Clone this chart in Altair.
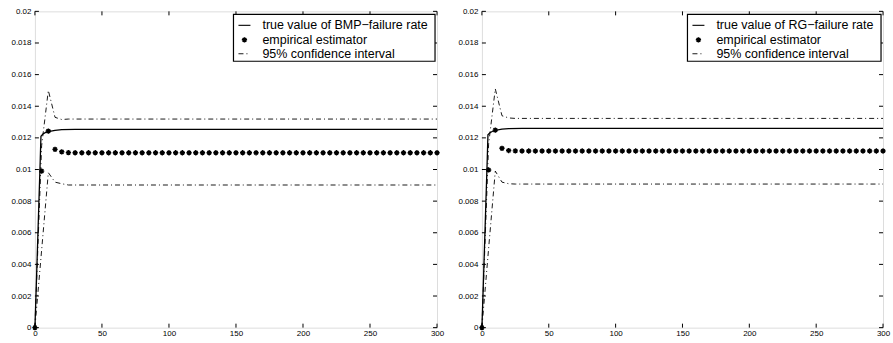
import altair as alt
import pandas as pd

# ---------------- data ----------------
x_est = [0, 5, 10, 15, 20, 25, 30, 35, 40, 45, 50, 55, 60, 65, 70, 75, 80, 85, 90, 95,
         100, 105, 110, 115, 120, 125, 130, 135, 140, 145, 150, 155, 160, 165, 170, 175,
         180, 185, 190, 195, 200, 205, 210, 215, 220, 225, 230, 235, 240, 245, 250, 255,
         260, 265, 270, 275, 280, 285, 290, 295, 300]
est_bmp = [0.0, 0.0099, 0.01243, 0.01127, 0.01112, 0.01107, 0.01106, 0.01106, 0.01106, 0.01106,
           0.01106, 0.01106, 0.01106, 0.01106, 0.01106, 0.01106, 0.01106, 0.01106, 0.01106, 0.01106,
           0.01106, 0.01106, 0.01106, 0.01106, 0.01106, 0.01106, 0.01106, 0.01106, 0.01106, 0.01106,
           0.01106, 0.01106, 0.01106, 0.01106, 0.01106, 0.01106, 0.01106, 0.01106, 0.01106, 0.01106,
           0.01106, 0.01106, 0.01106, 0.01106, 0.01106, 0.01106, 0.01106, 0.01106, 0.01106, 0.01106,
           0.01106, 0.01106, 0.01106, 0.01106, 0.01106, 0.01106, 0.01106, 0.01106, 0.01106, 0.01106,
           0.01106]
est_rg = [0.0, 0.00997, 0.01249, 0.01134, 0.0112, 0.01118, 0.01117, 0.01117, 0.01117, 0.01117,
          0.01117, 0.01117, 0.01117, 0.01117, 0.01117, 0.01117, 0.01117, 0.01117, 0.01117, 0.01117,
          0.01117, 0.01117, 0.01117, 0.01117, 0.01117, 0.01117, 0.01117, 0.01117, 0.01117, 0.01117,
          0.01117, 0.01117, 0.01117, 0.01117, 0.01117, 0.01117, 0.01117, 0.01117, 0.01117, 0.01117,
          0.01117, 0.01117, 0.01117, 0.01117, 0.01117, 0.01117, 0.01117, 0.01117, 0.01117, 0.01117,
          0.01117, 0.01117, 0.01117, 0.01117, 0.01117, 0.01117, 0.01117, 0.01117, 0.01117, 0.01117,
          0.01117]

x_true = [0, 1, 2, 3, 4, 4.5, 6, 8, 10, 15, 20, 30, 300]
true_bmp = [0.0, 0.0026, 0.0053, 0.008, 0.0107, 0.0121, 0.01225, 0.01235, 0.0124, 0.01248,
            0.01252, 0.01254, 0.01254]
true_rg = [0.0, 0.0026, 0.0053, 0.008, 0.0107, 0.0122, 0.01232, 0.01242, 0.01248, 0.01255,
           0.01258, 0.0126, 0.0126]

x_ci = [0, 5, 10, 15, 20, 25, 300]
ci_up_bmp = [0.0, 0.0115, 0.0150, 0.0133, 0.01316, 0.01319, 0.01319]
ci_lo_bmp = [0.0, 0.0049, 0.0098, 0.0092, 0.0091, 0.00902, 0.00902]
ci_up_rg = [0.0, 0.0116, 0.0151, 0.0134, 0.01326, 0.01323, 0.01323]
ci_lo_rg = [0.0, 0.0050, 0.0099, 0.0092, 0.0091, 0.00908, 0.00908]

x_ticks = [0, 50, 100, 150, 200, 250, 300]
y_ticks = [0, 0.002, 0.004, 0.006, 0.008, 0.01, 0.012, 0.014, 0.016, 0.018, 0.02]

legend_true = ["true value of BMP\u2212failure rate", "true value of RG\u2212failure rate"]
legend_est = "empirical estimator"
legend_ci = "95% confidence interval"

# ---------------- styling ----------------
W_L, W_R, H = 403, 402, 317
FONT = "Liberation Sans"
STAR = "M-1,0L1,0M0,-1L0,1M-0.7,-0.7L0.7,0.7M-0.7,0.7L0.7,-0.7"
DASHDOT = [5, 3, 1, 3]

xs = alt.Scale(domain=[0, 300], nice=False, zero=False)
ys = alt.Scale(domain=[0, 0.02], nice=False, zero=False)

x_axis = alt.Axis(values=x_ticks, title=None, ticks=False, domain=False, grid=False,
                  labelFontSize=8, labelFont=FONT, labelPadding=2, labelFlush=False,
                  labelColor="black")
y_axis = alt.Axis(values=y_ticks, title=None, ticks=False, domain=False, grid=False,
                  format="~g", labelFontSize=8, labelFont=FONT, labelPadding=4,
                  labelFlush=False, labelColor="black", minExtent=29, maxExtent=29)


def panel(est, tru, up, lo, legend_label, width, leg):
    est_df = pd.DataFrame({"t": x_est, "v": est})
    true_df = pd.DataFrame({"t": x_true, "v": tru})
    ci_df = pd.concat([
        pd.DataFrame({"t": x_ci, "v": up, "s": "upper"}),
        pd.DataFrame({"t": x_ci, "v": lo, "s": "lower"}),
    ])
    xt = pd.DataFrame({"t": x_ticks})
    yt = pd.DataFrame({"v": y_ticks})

    X = alt.X("t:Q", scale=xs, axis=x_axis)
    Y = alt.Y("v:Q", scale=ys, axis=y_axis)

    ci = alt.Chart(ci_df).mark_line(color="black", strokeWidth=0.9, strokeDash=DASHDOT).encode(
        x=X, y=Y, detail="s:N")
    tl = alt.Chart(true_df).mark_line(color="black", strokeWidth=1.3).encode(x=X, y=Y)
    pts = alt.Chart(est_df).mark_point(shape=STAR, size=28, filled=False, color="black",
                                       strokeWidth=1.4, opacity=1).encode(x=X, y=Y)

    # inside ticks on all four sides
    tb = alt.Chart(xt).mark_rule(color="black", strokeWidth=1)
    tick_bottom = tb.encode(x=X, y=alt.value(H), y2=alt.value(H - 4))
    tick_top = tb.encode(x=X, y=alt.value(0), y2=alt.value(4))
    tl2 = alt.Chart(yt).mark_rule(color="black", strokeWidth=1)
    tick_left = tl2.encode(y=Y, x=alt.value(0), x2=alt.value(4))
    tick_right = tl2.encode(y=Y, x=alt.value(width), x2=alt.value(width - 4))

    # legend box
    bx0, bx1, by0, by1, lx0, lx1, tx = leg
    one = pd.DataFrame({"a": [0]})
    box = alt.Chart(one).mark_rect(fill="white", stroke="black", strokeWidth=1.2).encode(
        x=alt.value(bx0), x2=alt.value(bx1), y=alt.value(by0), y2=alt.value(by1))
    r1 = by0 + 11
    r2 = by0 + 25.5
    r3 = by0 + 39.5
    s1 = alt.Chart(one).mark_rule(color="black", strokeWidth=1.1).encode(
        x=alt.value(lx0), x2=alt.value(lx1), y=alt.value(r1))
    s2 = alt.Chart(one).mark_point(shape=STAR, size=28, filled=False, color="black",
                                   strokeWidth=1.4, opacity=1).encode(
        x=alt.value((lx0 + lx1) / 2), y=alt.value(r2))
    s3 = alt.Chart(one).mark_rule(color="black", strokeWidth=0.9, strokeDash=DASHDOT).encode(
        x=alt.value(lx0), x2=alt.value(lx1), y=alt.value(r3))
    txt = alt.Chart(one).mark_text(align="left", baseline="middle", font=FONT, fontSize=12.5,
                                   color="black")
    t1 = txt.encode(x=alt.value(tx), y=alt.value(r1), text=alt.value(legend_label))
    t2 = txt.encode(x=alt.value(tx), y=alt.value(r2), text=alt.value(legend_est))
    t3 = txt.encode(x=alt.value(tx), y=alt.value(r3), text=alt.value(legend_ci))

    return alt.layer(ci, tl, pts, tick_bottom, tick_top, tick_left, tick_right,
                     box, s1, s2, s3, t1, t2, t3).properties(width=width, height=H)


left = panel(est_bmp, true_bmp, ci_up_bmp, ci_lo_bmp, legend_true[0], W_L,
             (199, 401, 3, 50, 204, 216, 228))
right = panel(est_rg, true_rg, ci_up_rg, ci_lo_rg, legend_true[1], W_R,
              (206, 400, 3, 50, 211, 223, 235))

chart = alt.hconcat(left, right, spacing=45, bounds="flush").properties(
    padding={"left": 5, "top": 6, "right": 2, "bottom": 2}
).configure_view(stroke="black", strokeWidth=1.2).configure(background="white")

chart.save("out.html", embed_options={"renderer": "svg", "actions": False})
